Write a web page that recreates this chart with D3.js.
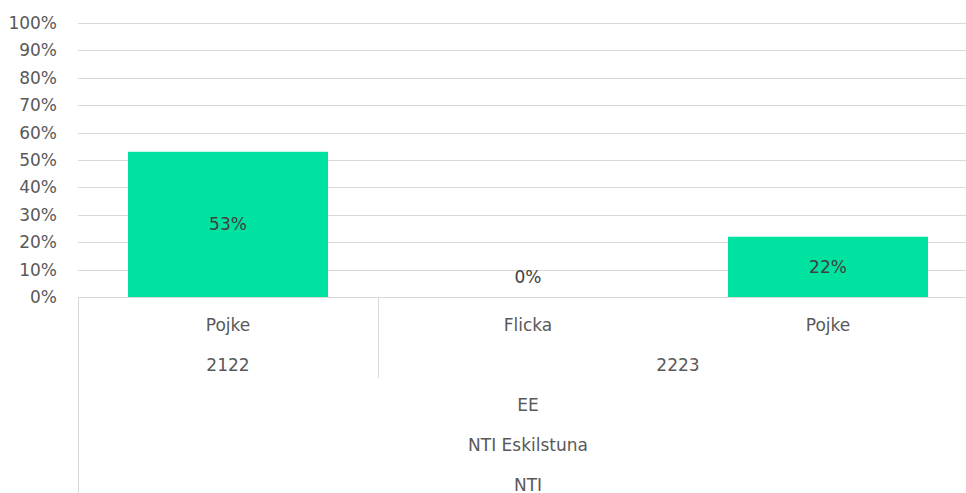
<!DOCTYPE html>
<html>
<head>
<meta charset="utf-8">
<script src="https://cdn.jsdelivr.net/npm/d3@7"></script>
<style>
  body { margin: 0; background: #fff; }
  svg { display: block; font-family: "DejaVu Sans", sans-serif; }
</style>
</head>
<body>
<div id="chart"></div>
<script>
// DATA
const genders = ["Pojke", "Flicka", "Pojke"];
const years = ["2122", "2223", "2223"];
const programs = ["EE", "EE", "EE"];
const schools = ["NTI Eskilstuna", "NTI Eskilstuna", "NTI Eskilstuna"];
const orgs = ["NTI", "NTI", "NTI"];
const values = [0.53, 0, 0.22];
const yTicks = [0, 0.1, 0.2, 0.3, 0.4, 0.5, 0.6, 0.7, 0.8, 0.9, 1];

// DRAWING SETUP
const width = 966, height = 493;
const margin = {left: 78, top: 23, right: -12, bottom: 196};
const x0 = margin.left, x1 = width - margin.right;
const yTop = margin.top, yBottom = height - margin.bottom;

const svg = d3.select("#chart").append("svg")
    .attr("width", width)
    .attr("height", height);

const idx = d3.range(values.length);
const x = d3.scaleBand()
    .domain(idx)
    .range([x0, x1])
    .paddingInner(0.3333)
    .paddingOuter(0.1667);

const slot = d3.scaleBand().domain(idx).range([x0, x1]);

const y = d3.scaleLinear().domain([0, 1]).range([yBottom, yTop]);

// gridlines
svg.append("g")
    .selectAll("line")
    .data(yTicks)
    .enter().append("line")
    .attr("x1", x0)
    .attr("x2", width)
    .attr("y1", d => Math.round(y(d)) + 0.5)
    .attr("y2", d => Math.round(y(d)) + 0.5)
    .style("stroke", "#d9d9d9")
    .style("stroke-width", 1);

// y labels
svg.append("g")
    .selectAll("text")
    .data(yTicks)
    .enter().append("text")
    .attr("x", 57)
    .attr("y", d => y(d))
    .attr("dy", "0.35em")
    .attr("text-anchor", "end")
    .attr("font-size", 17)
    .attr("fill", "#595959")
    .text(d3.format(".0%"));

// bars
svg.append("g")
    .selectAll("rect")
    .data(idx)
    .enter().append("rect")
    .attr("x", i => x(i))
    .attr("width", x.bandwidth())
    .attr("y", i => y(values[i]))
    .attr("height", i => y(0) - y(values[i]))
    .style("fill", "#00E2A0");

// data labels
svg.append("g")
    .selectAll("text")
    .data(idx)
    .enter().append("text")
    .attr("x", i => x(i) + x.bandwidth() / 2)
    .attr("y", i => Math.min(y(values[i] / 2), y(0) - 20))
    .attr("dy", "0.35em")
    .attr("text-anchor", "middle")
    .attr("font-size", 17)
    .attr("fill", "#404040")
    .text(i => d3.format(".0%")(values[i]));

// multi-level category axis
const axis = svg.append("g").style("stroke", "#d9d9d9").style("stroke-width", 1);
const rowY = [325, 365, 405, 445, 485];
const levels = [genders, years, programs, schools, orgs];

function groupsOf(arr) {
    const groups = [];
    arr.forEach((v, i) => {
        const last = groups[groups.length - 1];
        if (last && last.label === v) last.end = i;
        else groups.push({label: v, start: i, end: i});
    });
    return groups;
}

// left border
axis.append("line")
    .attr("x1", x0 + 0.5).attr("x2", x0 + 0.5)
    .attr("y1", yBottom).attr("y2", height);

levels.forEach((level, li) => {
    const groups = groupsOf(level);
    groups.forEach((g, gi) => {
        const gx0 = slot(g.start);
        const gx1 = slot(g.end) + slot.bandwidth();
        svg.append("text")
            .attr("x", (gx0 + gx1) / 2)
            .attr("y", rowY[li])
            .attr("dy", "0.35em")
            .attr("text-anchor", "middle")
            .attr("font-size", 17)
            .attr("fill", "#595959")
            .text(g.label);
        // separators only between parent groups, spanning down through that level
        if (gi > 0 && li > 0) {
            axis.append("line")
                .attr("x1", Math.round(gx0) + 0.5).attr("x2", Math.round(gx0) + 0.5)
                .attr("y1", yBottom)
                .attr("y2", rowY[li] + 13);
        }
    });
});
</script>
</body>
</html>
